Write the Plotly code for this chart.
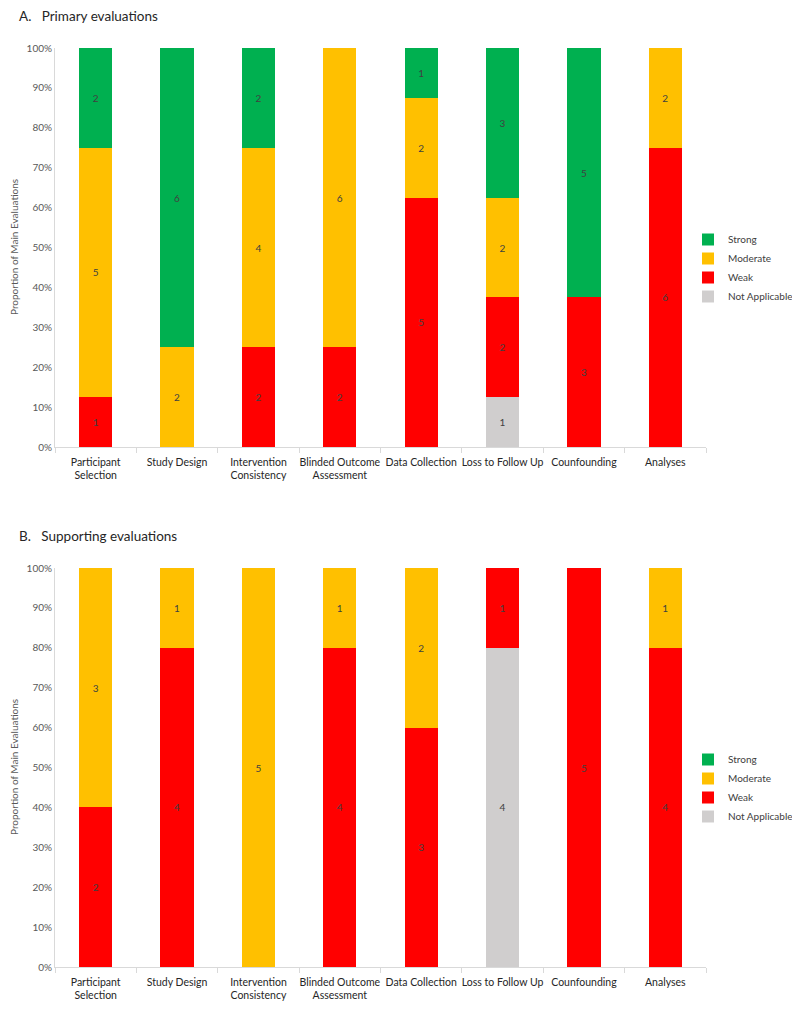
import plotly.graph_objects as go

categories = ["Participant<br>Selection", "Study Design", "Intervention<br>Consistency",
              "Blinded Outcome<br>Assessment", "Data Collection", "Loss to Follow Up",
              "Counfounding", "Analyses"]
series_names = ["Not Applicable", "Weak", "Moderate", "Strong"]
colors = {"Strong": "#00B050", "Moderate": "#FFC000", "Weak": "#FF0000", "Not Applicable": "#D0CECE"}

# Primary evaluations (counts)
primary_na       = [0, 0, 0, 0, 0, 1, 0, 0]
primary_weak     = [1, 0, 2, 2, 5, 2, 3, 6]
primary_moderate = [5, 2, 4, 6, 2, 2, 0, 2]
primary_strong   = [2, 6, 2, 0, 1, 3, 5, 0]

# Supporting evaluations (counts)
support_na       = [0, 0, 0, 0, 0, 4, 0, 0]
support_weak     = [2, 4, 0, 4, 3, 1, 5, 4]
support_moderate = [3, 1, 5, 1, 2, 0, 0, 1]
support_strong   = [0, 0, 0, 0, 0, 0, 0, 0]

primary = {"Not Applicable": primary_na, "Weak": primary_weak,
           "Moderate": primary_moderate, "Strong": primary_strong}
support = {"Not Applicable": support_na, "Weak": support_weak,
           "Moderate": support_moderate, "Strong": support_strong}

FONT = "Lato, 'Open Sans', sans-serif"
W, H = 800, 1012
OFF = 8  # page body offset

def px(x):
    return (x - OFF) / W

def py(y):
    return 1 - (y - OFF) / H

fig = go.Figure()

for data, xa, ya, lg in [(primary, "x", "y", "legend"), (support, "x2", "y2", "legend2")]:
    for name in series_names:
        vals = data[name]
        fig.add_trace(go.Bar(
            x=categories, y=vals, name=name,
            marker=dict(color=colors[name], line=dict(width=0)),
            text=[str(v) if v > 0 else "" for v in vals],
            textposition="inside", insidetextanchor="middle", textangle=0,
            constraintext="none",
            textfont=dict(size=10, color="#404040", family=FONT),
            xaxis=xa, yaxis=ya, legend=lg, hoverinfo="skip",
        ))

axis_x = dict(domain=[px(55), px(706)], showline=True, linecolor="#D9D9D9", linewidth=1,
              ticks="outside", tickson="boundaries", ticklen=5, tickcolor="#D9D9D9",
              tickangle=0, automargin=False, ticklabelstandoff=5,
              tickfont=dict(size=10.5, color="#262626", family=FONT), showgrid=False)
axis_y = dict(range=[0, 100], dtick=10, ticksuffix="%", showline=True, linecolor="#D9D9D9",
              linewidth=1, showgrid=False, zeroline=False, ticks="", automargin=False,
              tickfont=dict(size=10, color="#595959", family=FONT))

leg = dict(xanchor="left", yanchor="top", traceorder="reversed",
           font=dict(size=10, color="#404040", family=FONT), itemwidth=30, tracegroupgap=0,
           bgcolor="rgba(0,0,0,0)")

fig.update_layout(
    width=W, height=H, margin=dict(l=0, r=0, t=0, b=0, autoexpand=False),
    paper_bgcolor="white", plot_bgcolor="white",
    barmode="stack", barnorm="percent", bargap=0.59,
    font=dict(family=FONT),
    xaxis=dict(axis_x, anchor="y"),
    yaxis=dict(axis_y, domain=[py(447), py(48)], anchor="x"),
    xaxis2=dict(axis_x, anchor="y2"),
    yaxis2=dict(axis_y, domain=[py(967), py(568)], anchor="x2"),
    legend=dict(leg, x=px(688), y=py(225)),
    legend2=dict(leg, x=px(688), y=py(745)),
    showlegend=True,
    annotations=[
        dict(text="A.   Primary evaluations", x=px(17), y=py(16), xref="paper", yref="paper",
             xanchor="left", yanchor="middle", showarrow=False,
             font=dict(size=13.5, color="#262626", family=FONT)),
        dict(text="B.   Supporting evaluations", x=px(17), y=py(536), xref="paper", yref="paper",
             xanchor="left", yanchor="middle", showarrow=False,
             font=dict(size=13.5, color="#262626", family=FONT)),
        dict(text="Proportion of Main Evaluations", x=px(14), y=py(247), xref="paper", yref="paper",
             xanchor="center", yanchor="middle", textangle=-90, showarrow=False,
             font=dict(size=10, color="#595959", family=FONT)),
        dict(text="Proportion of Main Evaluations", x=px(14), y=py(767), xref="paper", yref="paper",
             xanchor="center", yanchor="middle", textangle=-90, showarrow=False,
             font=dict(size=10, color="#595959", family=FONT)),
    ],
)

fig.write_html("out.html")
